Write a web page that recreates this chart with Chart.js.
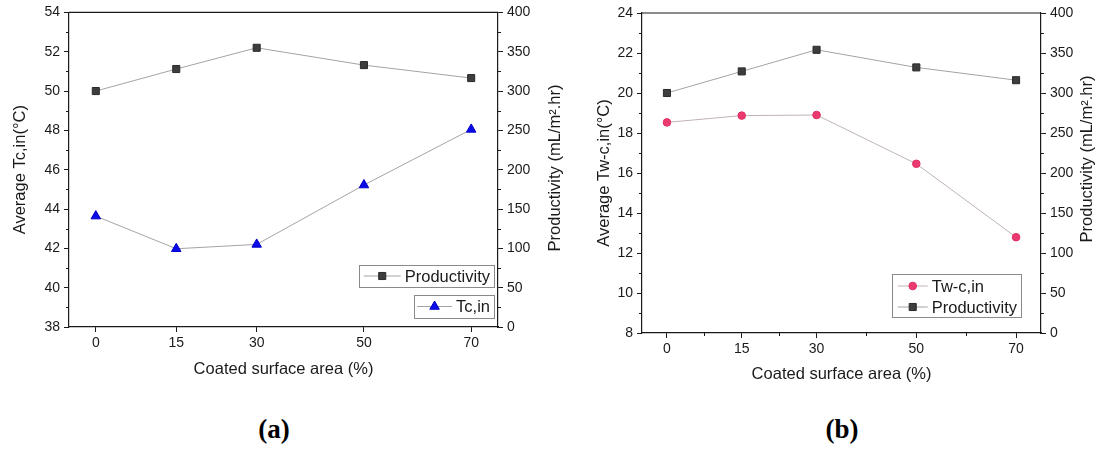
<!DOCTYPE html>
<html lang="en">
<head>
<meta charset="UTF-8">
<title>Coated surface area vs. Tc,in / Tw-c,in and productivity</title>
<script src="https://cdn.jsdelivr.net/npm/chart.js@4.4.1/dist/chart.umd.min.js"></script>
<style>
  body { margin: 0; background: #fff; width: 1104px; height: 450px; position: relative; overflow: hidden; }
  .panel { position: absolute; top: 0; height: 400px; }
  #wrapA { left: 0; width: 580px; }
  #wrapB { left: 580px; width: 524px; }
  .cap { position: absolute; top: 414px; transform: translateX(-50%);
         font-family: "Liberation Serif", "Times New Roman", serif; font-weight: bold; font-size: 27px; color: #000; }
</style>
</head>
<body>
<div class="panel" id="wrapA"><canvas id="chartA" width="580" height="400"></canvas></div>
<div class="panel" id="wrapB"><canvas id="chartB" width="524" height="400"></canvas></div>
<div class="cap" style="left:274px">(a)</div>
<div class="cap" style="left:842px">(b)</div>

<script>
// data
const coverage = [0, 15, 30, 50, 70];          // coated surface area (%)
const xTickValues = [0, 15, 30, 50, 70];
const productivityA = [300, 328, 355, 333, 316.5]; // mL/m2.hr, panel (a)
const tcIn = [43.64, 41.98, 42.2, 45.22, 48.05];   // degC
const productivityB = [300, 327, 354, 332, 316];   // mL/m2.hr, panel (b)
const twcIn = [18.53, 18.87, 18.9, 16.46, 12.79];  // degC

const tcRange = [38, 54];
const twcRange = [8, 24];
const prodRange = [0, 400];

const FONT = '"Liberation Sans", Arial, sans-serif';
const INK = '#1a1a1a';

function pts(ys) {
  return coverage.map((x, i) => ({ x: x, y: ys[i] }));
}

function minorVals(min, max, step) {
  const out = [];
  for (let v = min + step / 2; v < max; v += step) out.push(v);
  return out;
}

function drawMarker(ctx, style, r, x, y, fill, stroke) {
  ctx.fillStyle = fill;
  ctx.strokeStyle = stroke;
  ctx.lineWidth = 1;
  ctx.beginPath();
  if (style === 'rect') {
    const s = r * Math.SQRT1_2;
    ctx.rect(x - s, y - s, 2 * s, 2 * s);
  } else if (style === 'triangle') {
    ctx.moveTo(x, y - r);
    ctx.lineTo(x + r * 0.866, y + r * 0.5);
    ctx.lineTo(x - r * 0.866, y + r * 0.5);
    ctx.closePath();
  } else {
    ctx.arc(x, y, r, 0, Math.PI * 2);
  }
  ctx.fill();
  ctx.stroke();
}

// frame top line, minor ticks, right axis title and the boxed legends
const decor = {
  id: 'decor',
  afterDraw(chart, args, o) {
    const { ctx, chartArea: a, scales } = chart;
    ctx.save();
    ctx.strokeStyle = INK;
    ctx.lineWidth = 1.2;
    ctx.beginPath();
    ctx.moveTo(a.left, a.top);
    ctx.lineTo(a.right, a.top);
    ctx.stroke();

    ctx.lineWidth = 1;
    ctx.beginPath();
    o.minorY.forEach(v => { const y = Math.round(scales.y.getPixelForValue(v)) + 0.5; ctx.moveTo(a.left - 3, y); ctx.lineTo(a.left, y); });
    o.minorY1.forEach(v => { const y = Math.round(scales.y1.getPixelForValue(v)) + 0.5; ctx.moveTo(a.right, y); ctx.lineTo(a.right + 3, y); });
    o.minorX.forEach(v => { const x = Math.round(scales.x.getPixelForValue(v)) + 0.5; ctx.moveTo(x, a.bottom); ctx.lineTo(x, a.bottom + 3); });
    ctx.stroke();

    // right axis title, reading bottom to top
    ctx.save();
    ctx.translate(a.right + o.rightTitle.dx, o.rightTitle.cy);
    ctx.rotate(-Math.PI / 2);
    ctx.fillStyle = INK;
    ctx.font = '16.5px ' + FONT;
    ctx.textAlign = 'center';
    ctx.textBaseline = 'middle';
    ctx.fillText(o.rightTitle.text, 0, 0);
    ctx.restore();

    // legends
    ctx.font = '16.5px ' + FONT;
    o.boxes.forEach(b => {
      const tw = Math.max(...b.items.map(i => ctx.measureText(chart.data.datasets[i].label).width));
      const w = b.padL + b.lineLen + 4 + tw + 4;
      const h = b.padT + (b.items.length - 1) * b.rowH + b.padB;
      const right = a.right - b.right;
      const bottom = a.bottom - b.bottom;
      const left = right - w, top = bottom - h;
      ctx.fillStyle = '#fff';
      ctx.fillRect(left, top, w, h);
      ctx.strokeStyle = '#8a8a8a';
      ctx.lineWidth = 1;
      ctx.strokeRect(Math.round(left) + 0.5, Math.round(top) + 0.5, Math.round(w), Math.round(h));
      b.items.forEach((i, k) => {
        const ds = chart.data.datasets[i];
        const y = top + b.padT + k * b.rowH;
        const x0 = left + b.padL;
        ctx.strokeStyle = ds.borderColor;
        ctx.lineWidth = 1;
        ctx.beginPath();
        ctx.moveTo(x0, y);
        ctx.lineTo(x0 + b.lineLen, y);
        ctx.stroke();
        drawMarker(ctx, ds.pointStyle, ds.pointRadius, x0 + b.lineLen / 2, y, ds.pointBackgroundColor, ds.pointBorderColor);
        ctx.fillStyle = INK;
        ctx.textAlign = 'left';
        ctx.textBaseline = 'middle';
        ctx.fillText(ds.label, x0 + b.lineLen + 4, y + 1);
      });
    });
    ctx.restore();
  }
};

function xScale(axisHeight, titlePad) {
  return {
    type: 'linear', min: -5, max: 75,
    afterBuildTicks: s => { s.ticks = xTickValues.map(v => ({ value: v })); },
    afterFit: s => { s.height = axisHeight; },
    grid: { drawOnChartArea: false, tickLength: 5, tickColor: INK, lineWidth: 1 },
    border: { color: INK, width: 1.2 },
    ticks: { color: INK, font: { family: FONT, size: 14 }, padding: 3 },
    title: { display: true, text: 'Coated surface area (%)', color: INK,
             font: { family: FONT, size: 16.5 }, padding: { top: 0, bottom: titlePad } }
  };
}

function yScale(pos, range, step, width, title, titlePad) {
  const s = {
    position: pos, min: range[0], max: range[1],
    afterFit: sc => { sc.width = width; },
    grid: { drawOnChartArea: false, tickLength: 5, tickColor: INK, lineWidth: 1 },
    border: { color: INK, width: 1.2 },
    ticks: { stepSize: step, color: INK, font: { family: FONT, size: 14 }, padding: 4 },
    title: { display: false }
  };
  if (title) {
    s.title = { display: true, text: title, color: INK, font: { family: FONT, size: 16.5 },
                padding: { top: titlePad, bottom: 0 } };
  }
  return s;
}

function series(label, ys, axis, style, radius, fill, stroke, line) {
  return {
    label: label, data: pts(ys), yAxisID: axis,
    borderColor: line, borderWidth: 1, tension: 0,
    pointStyle: style, pointRadius: radius, pointHoverRadius: radius,
    pointBackgroundColor: fill, pointBorderColor: stroke, pointBorderWidth: 1
  };
}

const common = { responsive: false, maintainAspectRatio: false, animation: false, devicePixelRatio: 1 };

new Chart(document.getElementById('chartA'), {
  type: 'line',
  data: {
    datasets: [
      series('Productivity', productivityA, 'y1', 'rect', 5, '#3d3d3d', '#2b2b2b', '#a3a3a3'),
      series('Tc,in', tcIn, 'y', 'triangle', 5.5, '#0b0be8', '#0000c8', '#a3a3a3')
    ]
  },
  options: Object.assign({}, common, {
    layout: { padding: { top: 12, left: 0, right: 0, bottom: 0 } },
    scales: {
      x: xScale(73, 21),
      y: yScale('left', tcRange, 2, 69, 'Average Tc,in(°C)', 11),
      y1: yScale('right', prodRange, 50, 82, null, 0)
    },
    plugins: {
      legend: { display: false },
      tooltip: { enabled: false },
      decor: {
        minorY: minorVals(tcRange[0], tcRange[1], 2),
        minorY1: minorVals(prodRange[0], prodRange[1], 50),
        minorX: [],
        rightTitle: { text: 'Productivity (mL/m².hr)', dx: 57, cy: 168 },
        boxes: [
          { items: [0], right: 4, bottom: 40, padL: 5, lineLen: 37, padT: 11, padB: 11, rowH: 0 },
          { items: [1], right: 4, bottom: 9, padL: 3, lineLen: 35, padT: 11.5, padB: 11.5, rowH: 0 }
        ]
      }
    }
  }),
  plugins: [decor]
});

new Chart(document.getElementById('chartB'), {
  type: 'line',
  data: {
    datasets: [
      series('Tw-c,in', twcIn, 'y', 'circle', 3.8, '#ea3a6e', '#e32d63', '#bfb3b7'),
      series('Productivity', productivityB, 'y1', 'rect', 5, '#3d3d3d', '#2b2b2b', '#a3a3a3')
    ]
  },
  options: Object.assign({}, common, {
    layout: { padding: { top: 13, left: 0, right: 0, bottom: 0 } },
    scales: {
      x: xScale(67, 16),
      y: yScale('left', twcRange, 2, 62, 'Average Tw-c,in(°C)', 15),
      y1: yScale('right', prodRange, 50, 63, null, 0)
    },
    plugins: {
      legend: { display: false },
      tooltip: { enabled: false },
      decor: {
        minorY: minorVals(twcRange[0], twcRange[1], 2),
        minorY1: minorVals(prodRange[0], prodRange[1], 50),
        minorX: [7.5, 22.5, 40, 60],
        rightTitle: { text: 'Productivity (mL/m².hr)', dx: 46, cy: 159 },
        boxes: [
          { items: [0, 1], right: 20, bottom: 16, padL: 6, lineLen: 30, padT: 12, padB: 10, rowH: 21 }
        ]
      }
    }
  }),
  plugins: [decor]
});
</script>
</body>
</html>
